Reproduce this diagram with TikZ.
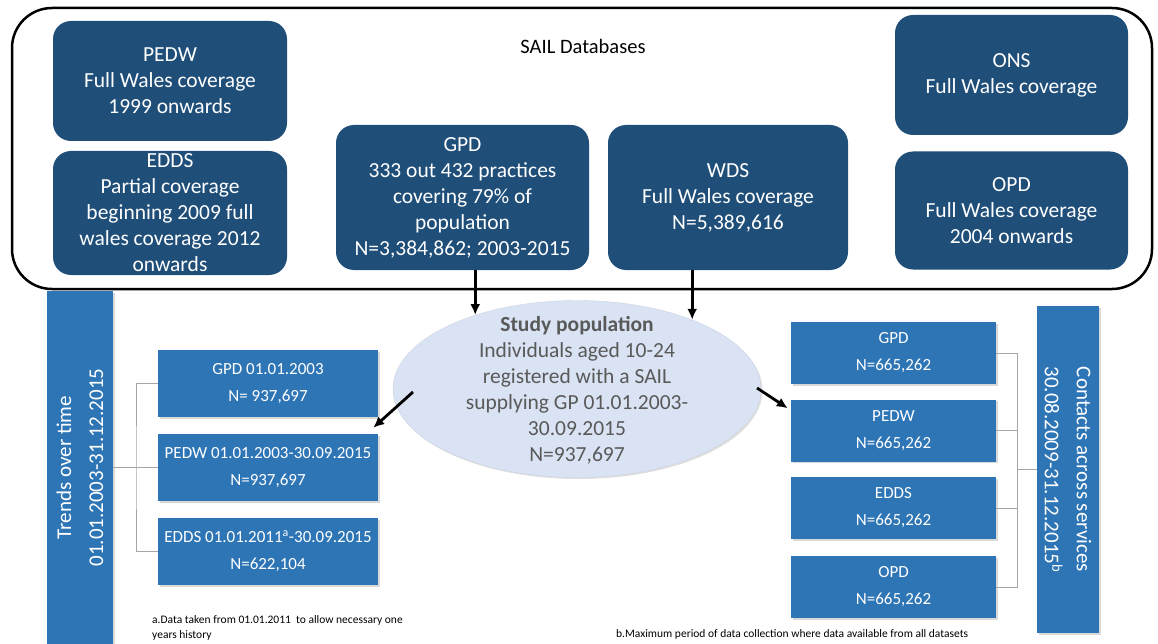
\documentclass[tikz,border=0pt]{standalone}
\usepackage{fontspec}
\setmainfont{Carlito}
\usetikzlibrary{shapes.geometric,shadows,arrows.meta}
\definecolor{sailnavy}{HTML}{1F4E79}
\definecolor{studyblue}{HTML}{2E75B6}
\definecolor{ellipsefill}{HTML}{DAE3F3}
\definecolor{textgrey}{HTML}{595959}
\definecolor{bracketgrey}{HTML}{A6A6A6}
\begin{document}
\begin{tikzpicture}[x=1pt,y=-1pt,
  container/.style={draw=black,line width=2.5pt,rounded corners=40pt,inner sep=0pt},
  sailbox/.style={fill=sailnavy,rounded corners=18pt,text=white,align=center,inner sep=0pt,
    font=\fontsize{21.5}{26}\selectfont},
  studybox/.style={fill=studyblue,text=white,align=center,inner sep=0pt,
    drop shadow={shadow xshift=1.5pt,shadow yshift=-1.5pt,opacity=0.3},
    font=\fontsize{17}{27}\selectfont},
  barbox/.style={fill=studyblue,text=white,align=center,inner sep=0pt,
    drop shadow={shadow xshift=1.5pt,shadow yshift=-1.5pt,opacity=0.3},
    font=\fontsize{21}{32}\selectfont},
  studyellipse/.style={ellipse,fill=ellipsefill,draw=ellipsefill!85!gray,inner sep=0pt,
    drop shadow={shadow xshift=1.5pt,shadow yshift=-1.5pt,opacity=0.25}},
  studytext/.style={text=textgrey,align=center,inner sep=0pt,font=\fontsize{21.5}{26}\selectfont},
  footnote/.style={align=left,inner sep=0pt,font=\fontsize{11.5}{14.5}\selectfont},
  feedarrow/.style={line width=2.8pt,-{Latex[length=11pt,width=10pt]}},
  bracket/.style={draw=bracketgrey,line width=1pt}]
\useasboundingbox (0,0) rectangle (1158,644);
% SAIL databases
\node[container,minimum width=1140pt,minimum height=281pt] (sail) at (582,148.5) {};
\node[font=\fontsize{20.5}{24}\selectfont,inner sep=0pt] (sailtitle) at (583,46) {SAIL Databases};
\node[sailbox,minimum width=234pt,minimum height=120pt] (pedw) at (170,81)
  {PEDW\\Full Wales coverage\\1999 onwards};
\node[sailbox,minimum width=234pt,minimum height=124pt] (edds) at (170,213)
  {EDDS\\Partial coverage\\beginning 2009 full\\wales coverage 2012\\onwards};
\node[sailbox,minimum width=253pt,minimum height=145pt] (gpd) at (462.5,197.5)
  {GPD\\333 out 432 practices\\covering 79\% of\\population\\N=3,384,862; 2003-2015};
\node[sailbox,minimum width=240pt,minimum height=145pt] (wds) at (728,197.5)
  {WDS\\Full Wales coverage\\N=5,389,616};
\node[sailbox,minimum width=233pt,minimum height=120pt] (ons) at (1011.5,75)
  {ONS\\Full Wales coverage};
\node[sailbox,minimum width=233pt,minimum height=118pt] (opd) at (1011.5,210.5)
  {OPD\\Full Wales coverage\\2004 onwards};
% study population
\node[studyellipse,minimum width=368pt,minimum height=177pt] (study) at (577,389) {};
\node[studytext] (studytxt) at (577,390)
  {\textbf{Study population}\\Individuals aged 10-24\\registered with a SAIL\\supplying GP 01.01.2003-\\30.09.2015\\N=937,697};
\draw[feedarrow] (gpd.south -| study.144) -- (study.144);
\draw[feedarrow] (wds.south -| study.31) -- (study.31);
% trends over time
\node[barbox,rotate=90,minimum width=353pt,minimum height=66pt] (trendsbar) at (80,467.5)
  {Trends over time\\01.01.2003-31.12.2015};
\node[studybox,minimum width=220pt,minimum height=67pt] (tgpd) at (268,383.5)
  {GPD 01.01.2003\\N= 937,697};
\node[studybox,minimum width=220pt,minimum height=67pt] (tpedw) at (268,467.5)
  {PEDW 01.01.2003-30.09.2015\\N=937,697};
\node[studybox,minimum width=220pt,minimum height=67pt] (tedds) at (268,551.5)
  {EDDS 01.01.2011\textsuperscript{a}-30.09.2015\\N=622,104};
\coordinate (tjoin) at (136,467.5);
\draw[bracket] (tgpd.west) -| (tjoin) |- (tedds.west);
\draw[bracket] (trendsbar.south) -- (tpedw.west);
\draw[feedarrow] ([shift={(-164,3)}]study.center) -- ([shift={(-5,-6)}]tpedw.north east);
\node[footnote,anchor=west] (fna) at (152,628)
  {a.Data taken from 01.01.2011\ \ to allow necessary one\\years history};
% contacts across services
\node[barbox,rotate=-90,minimum width=327pt,minimum height=62pt] (contactsbar) at (1068,469.5)
  {Contacts across services\\30.08.2009-31.12.2015\textsuperscript{b}};
\node[studybox,minimum width=205pt,minimum height=62pt] (cgpd) at (893.5,353)
  {GPD\\N=665,262};
\node[studybox,minimum width=205pt,minimum height=62pt] (cpedw) at (893.5,430.5)
  {PEDW\\N=665,262};
\node[studybox,minimum width=205pt,minimum height=62pt] (cedds) at (893.5,508)
  {EDDS\\N=665,262};
\node[studybox,minimum width=205pt,minimum height=62pt] (copd) at (893.5,587)
  {OPD\\N=665,262};
\coordinate (cjoin) at (1017,469.5);
\draw[bracket] (cgpd.east) -| (cjoin) |- (copd.east);
\draw[bracket] (cpedw.east) -| (cjoin);
\draw[bracket] (cedds.east) -| (cjoin);
\draw[bracket] (contactsbar.south) -- (cjoin);
\draw[feedarrow] ([shift={(180,-1)}]study.center) -- ([shift={(-3,9)}]cpedw.north west);
\node[footnote,anchor=west] (fnb) at (616,634)
  {b.Maximum period of data collection where data available from all datasets};
\end{tikzpicture}
\end{document}
